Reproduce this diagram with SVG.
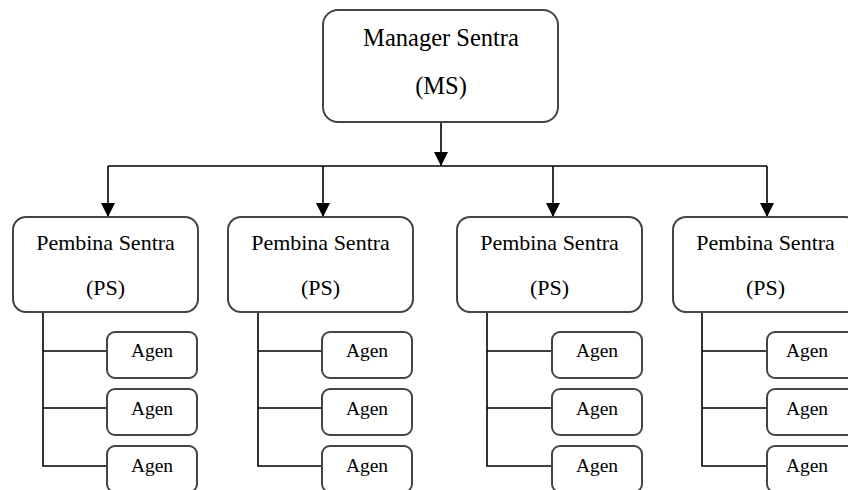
<svg xmlns="http://www.w3.org/2000/svg" width="848" height="490" viewBox="0 0 848 490">
  <style>
    .box { fill: #ffffff; stroke: #444444; stroke-width: 2; }
    .lbl { font-family: "Liberation Serif", "Times New Roman", serif; fill: #000000; text-anchor: middle; }
    .ms { font-size: 24.5px; }
    .ps { font-size: 22px; }
    .ag { font-size: 19.5px; }
    .wire { fill: none; stroke: #000000; stroke-width: 1.6; }
  </style>
  <defs>
    <marker id="arrow" viewBox="0 0 14 14" refX="14" refY="7" markerWidth="14" markerHeight="14" markerUnits="userSpaceOnUse" orient="auto">
      <path d="M0,0 L14,7 L0,14 Z" fill="#000000"/>
    </marker>
  </defs>
  <rect width="848" height="490" fill="#ffffff"/>

  <!-- connectors -->
  <g id="connectors">
    <line class="wire" x1="441" y1="122" x2="441" y2="166" marker-end="url(#arrow)"/>
    <line class="wire" x1="108" y1="166" x2="767" y2="166"/>
    <line class="wire" x1="108" y1="166" x2="108" y2="217" marker-end="url(#arrow)"/>
    <line class="wire" x1="323" y1="166" x2="323" y2="217" marker-end="url(#arrow)"/>
    <line class="wire" x1="553" y1="166" x2="553" y2="217" marker-end="url(#arrow)"/>
    <line class="wire" x1="767" y1="166" x2="767" y2="217" marker-end="url(#arrow)"/>
    <!-- agent branches -->
    <path class="wire" d="M43,312 V466 H107 M43,351 H107 M43,408 H107"/>
    <path class="wire" d="M258,312 V466 H322 M258,351 H322 M258,408 H322"/>
    <path class="wire" d="M487,312 V466 H552 M487,351 H552 M487,408 H552"/>
    <path class="wire" d="M702,312 V466 H767 M702,351 H767 M702,408 H767"/>
  </g>

  <g id="manager">
    <rect class="box" x="323" y="10" width="235" height="112" rx="15"/>
    <text class="lbl ms" x="441" y="46">Manager Sentra</text>
    <text class="lbl ms" x="441" y="94">(MS)</text>
  </g>

  <g id="ps1">
    <rect class="box" x="13" y="217" width="185" height="95" rx="13"/>
    <text class="lbl ps" x="105.5" y="250">Pembina Sentra</text>
    <text class="lbl ps" x="105.5" y="295">(PS)</text>
  </g>
  <g id="ps2">
    <rect class="box" x="228" y="217" width="185" height="95" rx="13"/>
    <text class="lbl ps" x="320.5" y="250">Pembina Sentra</text>
    <text class="lbl ps" x="320.5" y="295">(PS)</text>
  </g>
  <g id="ps3">
    <rect class="box" x="457" y="217" width="185" height="95" rx="13"/>
    <text class="lbl ps" x="549.5" y="250">Pembina Sentra</text>
    <text class="lbl ps" x="549.5" y="295">(PS)</text>
  </g>
  <g id="ps4">
    <rect class="box" x="673" y="217" width="185" height="95" rx="13"/>
    <text class="lbl ps" x="765.5" y="250">Pembina Sentra</text>
    <text class="lbl ps" x="765.5" y="295">(PS)</text>
  </g>

  <g id="agen1a"><rect class="box" x="107" y="332" width="90" height="46" rx="8"/><text class="lbl ag" x="152" y="357">Agen</text></g>
  <g id="agen1b"><rect class="box" x="107" y="389" width="90" height="46" rx="8"/><text class="lbl ag" x="152" y="415">Agen</text></g>
  <g id="agen1c"><rect class="box" x="107" y="446" width="90" height="46" rx="8"/><text class="lbl ag" x="152" y="472">Agen</text></g>

  <g id="agen2a"><rect class="box" x="322" y="332" width="90" height="46" rx="8"/><text class="lbl ag" x="367" y="357">Agen</text></g>
  <g id="agen2b"><rect class="box" x="322" y="389" width="90" height="46" rx="8"/><text class="lbl ag" x="367" y="415">Agen</text></g>
  <g id="agen2c"><rect class="box" x="322" y="446" width="90" height="46" rx="8"/><text class="lbl ag" x="367" y="472">Agen</text></g>

  <g id="agen3a"><rect class="box" x="552" y="332" width="90" height="46" rx="8"/><text class="lbl ag" x="597" y="357">Agen</text></g>
  <g id="agen3b"><rect class="box" x="552" y="389" width="90" height="46" rx="8"/><text class="lbl ag" x="597" y="415">Agen</text></g>
  <g id="agen3c"><rect class="box" x="552" y="446" width="90" height="46" rx="8"/><text class="lbl ag" x="597" y="472">Agen</text></g>

  <g id="agen4a"><rect class="box" x="767" y="332" width="90" height="46" rx="8"/><text class="lbl ag" x="807" y="357">Agen</text></g>
  <g id="agen4b"><rect class="box" x="767" y="389" width="90" height="46" rx="8"/><text class="lbl ag" x="807" y="415">Agen</text></g>
  <g id="agen4c"><rect class="box" x="767" y="446" width="90" height="46" rx="8"/><text class="lbl ag" x="807" y="472">Agen</text></g>
</svg>
